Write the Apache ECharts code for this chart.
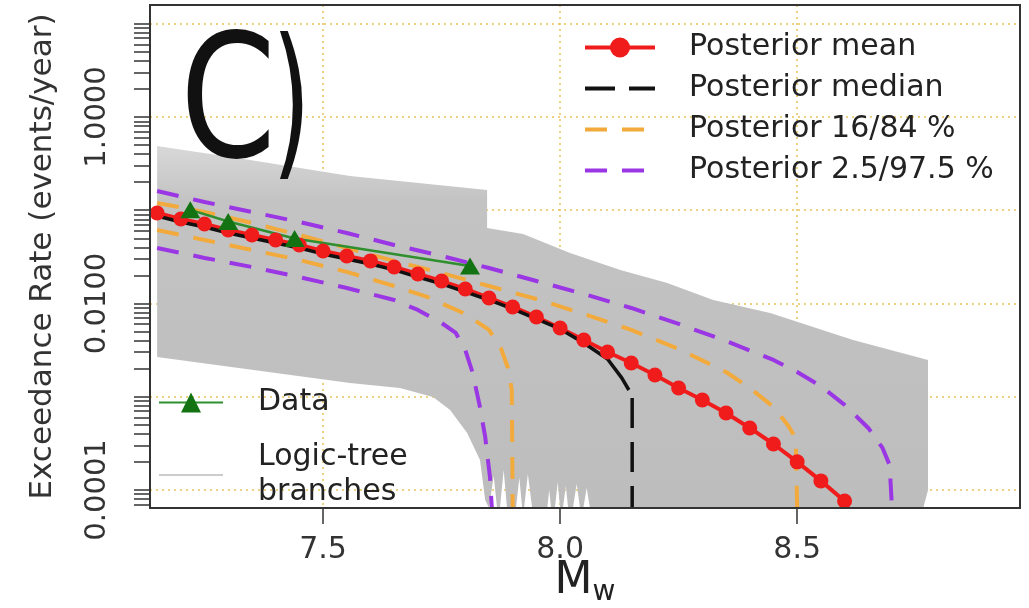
<!DOCTYPE html>
<html>
<head>
<meta charset="utf-8">
<script src="https://cdn.jsdelivr.net/npm/echarts@6/dist/echarts.min.js"></script>
<style>html,body{margin:0;padding:0;background:#fff}#main{width:1029px;height:608px}</style>
</head>
<body>
<div id="main"></div>
<script>
// axis extents
var X_MIN = 7.135, X_MAX = 8.97;
var Y_MIN = 6.4e-5, Y_MAX = 15.9;

// tick labels
var xTicks = [7.5, 8.0, 8.5];
var yLabelTicks = [0.0001, 0.01, 1];
var yTicks = [7e-5, 8e-5, 9e-5,
  1e-4, 2e-4, 3e-4, 4e-4, 5e-4, 6e-4, 7e-4, 8e-4, 9e-4,
  1e-3, 2e-3, 3e-3, 4e-3, 5e-3, 6e-3, 7e-3, 8e-3, 9e-3,
  0.01, 0.02, 0.03, 0.04, 0.05, 0.06, 0.07, 0.08, 0.09,
  0.1, 0.2, 0.3, 0.4, 0.5, 0.6, 0.7, 0.8, 0.9,
  1, 2, 3, 4, 5, 6, 7, 8, 9, 10];

// posterior mean
var meanX = [7.15, 7.20, 7.25, 7.30, 7.35, 7.40, 7.45, 7.50, 7.55, 7.60,
  7.65, 7.70, 7.75, 7.80, 7.85, 7.90, 7.95, 8.00, 8.05, 8.10,
  8.15, 8.20, 8.25, 8.30, 8.35, 8.40, 8.45, 8.50, 8.55, 8.60];
var meanY = [0.0934, 0.0805, 0.0712, 0.0614, 0.0543, 0.0480, 0.0424, 0.0366, 0.0323, 0.0286,
  0.0246, 0.0207, 0.0174, 0.0143, 0.01146, 0.00918, 0.00717, 0.00546, 0.00406, 0.00302,
  0.00230, 0.00171, 0.00124, 0.000923, 0.000669, 0.000462, 0.000311, 0.000200, 0.000125, 0.0000762];

// posterior median (curve, then the drop)
var medianX = [7.15, 7.20, 7.25, 7.30, 7.35, 7.40, 7.45, 7.50, 7.55, 7.60, 7.65,
  7.70, 7.75, 7.80, 7.85, 7.90, 7.95, 8.00, 8.05, 8.10, 8.13, 8.145];
var medianY = [0.0868, 0.0748, 0.0661, 0.0570, 0.0504, 0.0445, 0.0394, 0.0340, 0.0300, 0.0265, 0.0229,
  0.0192, 0.0162, 0.0133, 0.0109, 0.00873, 0.00682, 0.00533, 0.00377, 0.00254, 0.00159, 0.00118];
var medianDropX = [8.152, 8.152];
var medianDropY = [0.00097, Y_MIN];

// posterior 16 / 84 %
var q84X = [7.15, 7.25, 7.35, 7.45, 7.55, 7.65, 7.75, 7.85, 7.95, 8.05, 8.15, 8.25, 8.35, 8.40, 8.45, 8.48, 8.497, 8.50];
var q84Y = [0.1196, 0.0958, 0.0730, 0.0543, 0.0394, 0.0286, 0.0212, 0.0154, 0.01117, 0.00772, 0.00520,
  0.00325, 0.00184, 0.00124, 0.000777, 0.000498, 0.000361, Y_MIN];
var q16X = [7.15, 7.25, 7.35, 7.45, 7.55, 7.65, 7.72, 7.80, 7.85, 7.875, 7.89, 7.898, 7.90];
var q16Y = [0.0614, 0.0480, 0.0375, 0.0293, 0.0218, 0.0154, 0.01174, 0.00772, 0.00520, 0.00333, 0.00203, 0.00118, Y_MIN];

// posterior 2.5 / 97.5 %
var q975X = [7.15, 7.25, 7.35, 7.45, 7.55, 7.65, 7.75, 7.85, 7.95, 8.05, 8.15, 8.25, 8.35, 8.45,
  8.50, 8.55, 8.60, 8.65, 8.68, 8.695, 8.70];
var q975Y = [0.1609, 0.1226, 0.0958, 0.0748, 0.0570, 0.0424, 0.0323, 0.0240, 0.0174, 0.01264, 0.00895,
  0.00603, 0.00396, 0.00248, 0.00184, 0.00130, 0.000816, 0.000462, 0.000282, 0.000185, Y_MIN];
var q025X = [7.15, 7.25, 7.35, 7.45, 7.55, 7.65, 7.70, 7.75, 7.78, 7.80, 7.815, 7.83, 7.842, 7.852, 7.856];
var q025Y = [0.0394, 0.0308, 0.0246, 0.0192, 0.01466, 0.0109, 0.00852, 0.00618, 0.00483, 0.00317,
  0.00184, 0.000816, 0.000370, 0.000138, Y_MIN];

// observed data
var dataX = [7.22, 7.30, 7.44, 7.81];
var dataY = [0.101, 0.0757, 0.0498, 0.0252];

// envelope of the logic-tree branches (outline, clockwise)
var grayX = [7.150, 7.346, 7.557, 7.846, 7.846, 7.922, 8.021, 8.127, 8.226, 8.323, 8.443, 8.618, 8.776,
  8.776, 8.766,
  8.063, 8.056, 8.049, 8.042, 8.035, 8.027, 8.017, 8.012, 8.006, 8.000, 7.995, 7.989,
  7.981, 7.977, 7.973, 7.941, 7.932, 7.924, 7.920, 7.914, 7.907, 7.888, 7.881, 7.873,
  7.867, 7.860, 7.850,
  7.842, 7.831, 7.804, 7.768, 7.732, 7.662, 7.557, 7.150];
var grayY = [0.489, 0.346, 0.233, 0.165, 0.0645, 0.0556, 0.0348, 0.0229, 0.0166, 0.0109, 0.00791, 0.00406, 0.00248,
  0.000100, Y_MIN,
  Y_MIN, 0.000105, Y_MIN, Y_MIN, 0.000116, Y_MIN, Y_MIN, 0.000110, Y_MIN, Y_MIN, 0.000122, Y_MIN,
  Y_MIN, 0.000100, Y_MIN, Y_MIN, 0.000148, Y_MIN, Y_MIN, 0.000135, Y_MIN, Y_MIN, 0.000164, Y_MIN,
  Y_MIN, 0.000141, Y_MIN,
  0.0000781, 0.000210, 0.000409, 0.000721, 0.000994, 0.00124, 0.00140, 0.00267];

var GRID = {left: 150, top: 5, right: 9, bottom: 100};
var FONT = 'DejaVu Sans';
var RED = '#f01c1c', ORANGE = '#f2aa3c', PURPLE = '#9a36e4', GREEN = '#2f8f2f';

function pairs(xs, ys) {
  return xs.map(function (x, i) { return [x, ys[i]]; });
}
function sameValue(v, list) {
  return list.some(function (t) { return Math.abs(v / t - 1) < 1e-6; });
}

var chart = echarts.init(document.getElementById('main'), null, {renderer: 'canvas'});

var option = {
  animation: false,
  backgroundColor: '#fff',
  grid: {
    left: GRID.left, top: GRID.top, right: GRID.right, bottom: GRID.bottom,
    containLabel: false, outerBoundsMode: 'none'
  },
  xAxis: {
    type: 'value', min: X_MIN, max: X_MAX, splitNumber: 3,
    axisLine: {show: false},
    axisTick: {show: true, customValues: xTicks, length: 16, lineStyle: {color: '#333', width: 1.5}},
    axisLabel: {
      interval: 0, margin: 27, fontSize: 30, fontFamily: FONT, color: '#333',
      formatter: function (v) { return sameValue(v, xTicks) ? v.toFixed(1) : ''; }
    },
    splitLine: {show: true, lineStyle: {color: '#e6c45a', type: [2, 4], width: 1.5}},
    name: '{m|M}{w|w}', nameLocation: 'middle', nameGap: 49, nameMoveOverlap: false,
    nameTextStyle: {
      rich: {
        m: {fontSize: 44, fontFamily: FONT, color: '#222', lineHeight: 50},
        w: {fontSize: 28, fontFamily: FONT, color: '#222', verticalAlign: 'bottom', lineHeight: 50, padding: [20, 0, 0, 0]}
      }
    }
  },
  yAxis: [{
    type: 'log', logBase: 10, min: Y_MIN, max: Y_MAX,
    axisLine: {show: false},
    axisTick: {show: false},
    axisLabel: {
      interval: 0, rotate: 90, margin: 38, fontSize: 29, fontFamily: FONT, color: '#333',
      formatter: function (v) { return sameValue(v, yLabelTicks) ? v.toFixed(4) : ''; }
    },
    splitLine: {show: true, lineStyle: {color: '#e6c45a', type: [2, 4], width: 1.5}},
    name: 'Exceedance Rate (events/year)', nameLocation: 'middle', nameRotate: 90, nameGap: 92,
    nameMoveOverlap: false,
    nameTextStyle: {fontSize: 31, fontFamily: FONT, color: '#333'}
  }, {
    type: 'log', logBase: 10, min: Y_MIN, max: Y_MAX, position: 'left',
    axisLine: {show: false},
    axisTick: {show: true, customValues: yTicks, length: 16, lineStyle: {color: '#333', width: 1.5}},
    axisLabel: {show: false},
    splitLine: {show: false}
  }],
  legend: [{
    data: [
      'Posterior mean',
      {name: 'Posterior median', itemStyle: {opacity: 0}},
      {name: 'Posterior 16/84 %', itemStyle: {opacity: 0}},
      {name: 'Posterior 2.5/97.5 %', itemStyle: {opacity: 0}}
    ],
    orient: 'vertical', left: 583, top: 30, padding: 0,
    itemWidth: 70, itemHeight: 25, itemGap: 6, selectedMode: false,
    lineStyle: {width: 4},
    textStyle: {fontSize: 30, fontFamily: FONT, color: '#222', lineHeight: 35, padding: [0, 0, 0, 29]}
  }, {
    data: ['Data', {name: 'Logic-tree branches', icon: 'path://M0,0H64V2H0Z'}],
    orient: 'vertical', left: 158, top: 385, padding: 0,
    itemWidth: 64, itemHeight: 25, itemGap: 20, selectedMode: false,
    formatter: function (name) { return name === 'Logic-tree branches' ? 'Logic-tree\nbranches' : name; },
    textStyle: {fontSize: 30, fontFamily: FONT, color: '#222', lineHeight: 35, padding: [0, 0, 0, 30]}
  }],
  graphic: [{
    type: 'text', x: 180, y: 112, scaleX: 0.8, z: 10,
    style: {text: 'C', fontSize: 172, fontFamily: FONT, fill: '#111', verticalAlign: 'middle'}
  }, {
    type: 'text', x: 272, y: 114, scaleX: 0.6, z: 10,
    style: {text: ')', fontSize: 166, fontFamily: FONT, fill: '#111', verticalAlign: 'middle'}
  }, {
    type: 'rect', z: 100, silent: true,
    shape: {x: GRID.left, y: GRID.top, width: 1029 - GRID.left - GRID.right, height: 608 - GRID.top - GRID.bottom},
    style: {fill: 'none', stroke: '#333', lineWidth: 2}
  }],
  series: [{
    type: 'custom', name: 'Logic-tree branches',
    data: pairs(grayX, grayY),
    itemStyle: {color: '#cccccc'},
    renderItem: function (params, api) {
      if (params.dataIndex !== 0) return null;
      var pts = grayX.map(function (x, i) { return api.coord([x, grayY[i]]); });
      return {
        type: 'polygon', shape: {points: pts},
        style: {
          fill: new echarts.graphic.LinearGradient(0, 0, 0, 1, [
            {offset: 0, color: '#d8d8d8'}, {offset: 0.15, color: '#c3c3c3'}, {offset: 1, color: '#bdbdbd'}
          ]),
          stroke: null
        }
      };
    }
  }, {
    type: 'line', name: 'Posterior 2.5/97.5 %', data: pairs(q975X, q975Y), symbol: 'none',
    lineStyle: {color: PURPLE, width: 4, type: [22, 15]}, itemStyle: {color: PURPLE}
  }, {
    type: 'line', name: 'Posterior 2.5/97.5 %', data: pairs(q025X, q025Y), symbol: 'none',
    lineStyle: {color: PURPLE, width: 4, type: [22, 15]}, itemStyle: {color: PURPLE}
  }, {
    type: 'line', name: 'Posterior 16/84 %', data: pairs(q84X, q84Y), symbol: 'none',
    lineStyle: {color: ORANGE, width: 4, type: [22, 15]}, itemStyle: {color: ORANGE}
  }, {
    type: 'line', name: 'Posterior 16/84 %', data: pairs(q16X, q16Y), symbol: 'none',
    lineStyle: {color: ORANGE, width: 4, type: [22, 15]}, itemStyle: {color: ORANGE}
  }, {
    type: 'line', name: 'Posterior median', data: pairs(medianDropX, medianDropY), symbol: 'none',
    lineStyle: {color: '#111', width: 3.5, type: [30, 14]}, itemStyle: {color: '#111'}
  }, {
    type: 'line', name: 'Posterior mean', data: pairs(meanX, meanY),
    symbol: 'circle', symbolSize: 15, showAllSymbol: true,
    lineStyle: {color: RED, width: 4}, itemStyle: {color: RED}
  }, {
    type: 'line', name: 'Posterior median', data: pairs(medianX, medianY), symbol: 'none',
    lineStyle: {color: '#111', width: 3.5, type: 'solid'}, itemStyle: {color: '#111'}
  }, {
    type: 'line', name: 'Data', data: pairs(dataX, dataY),
    symbol: 'triangle', symbolSize: [20, 17],
    lineStyle: {color: GREEN, width: 2.5}, itemStyle: {color: '#137313'}
  }]
};
chart.setOption(option);
</script>
</body>
</html>
